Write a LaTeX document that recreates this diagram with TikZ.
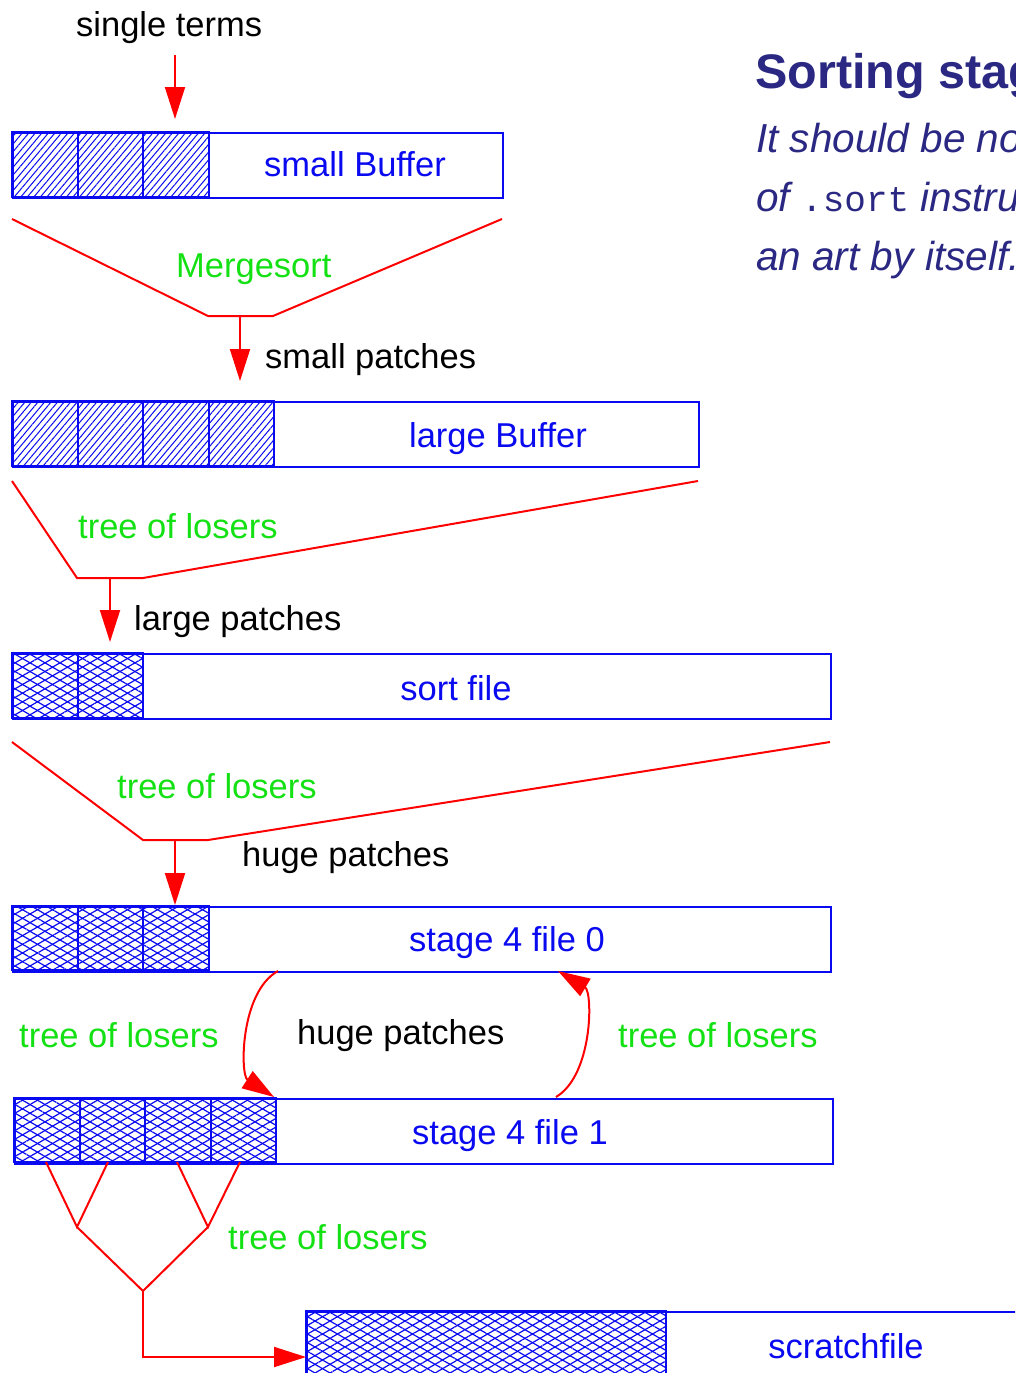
\documentclass[tikz,border=0pt]{standalone}
\usepackage{fontspec}
\setmainfont{Liberation Sans}
\setmonofont{Liberation Mono}
\usetikzlibrary{arrows.meta, positioning, patterns.meta, calc}
\definecolor{bufblue}{RGB}{10,10,240}
\definecolor{treegreen}{RGB}{20,225,20}
\definecolor{titlenavy}{RGB}{42,40,130}

\begin{document}
\begin{tikzpicture}[
  x=1pt, y=-1pt,
  font=\fontsize{34.5}{40}\selectfont,
  buffer/.style={draw=bufblue, line width=2.2pt, anchor=north west,
                 minimum height=65pt, inner sep=0pt},
  fine/.style={draw=bufblue, line width=2pt,
               pattern={Lines[angle=50,distance=5pt,line width=1pt]},
               pattern color=bufblue},
  coarse/.style={draw=bufblue, line width=2pt,
                 pattern={Lines[angle=30,distance=7.5pt,line width=1.2pt]},
                 pattern color=bufblue,
                 postaction={pattern={Lines[angle=-30,distance=7.5pt,line width=1.2pt]},
                             pattern color=bufblue}},
  bufname/.style={anchor=base, text=bufblue},
  label/.style={anchor=base west, inner sep=0pt},
  treename/.style={label, text=treegreen},
  patchname/.style={label, text=black},
  notetext/.style={label, text=titlenavy, font=\fontsize{40.5}{59}\selectfont\itshape},
  funnel/.style={red, line width=2pt},
  flow/.style={-{Triangle[length=32pt,width=20pt]}, red, line width=2pt}
]
  \useasboundingbox (0,0) rectangle (1015,1373);
  \clip (0,0) rectangle (1015,1373);

  % heading and note
  \node[label, text=titlenavy,
        font=\fontsize{48.5}{58}\selectfont\bfseries] (title) at (755,88) {Sorting stages};
  \node[notetext] (note1) at (756,152) {It should be noted that};
  \node[notetext] (note2) at (756,211)
    {of {\upshape\fontsize{36}{59}\selectfont\ttfamily .sort} instructions};
  \node[notetext] (note3) at (756,270) {an art by itself.};

  % buffers and files
  \node[buffer, minimum width=490pt] (smallbuf) at (12,132) {};
  \foreach \i in {0,1,2}
    \draw[fine] (12+65.5*\i,132) rectangle ++(65.5,65);
  \node[bufname] (smalltxt) at (355,176) {small Buffer};

  \node[buffer, minimum width=686pt] (largebuf) at (12,401) {};
  \foreach \i in {0,...,3}
    \draw[fine] (12+65.5*\i,401) rectangle ++(65.5,65);
  \node[bufname] (largetxt) at (498,447) {large Buffer};

  \node[buffer, minimum width=818pt] (sortfile) at (12,653) {};
  \foreach \i in {0,1}
    \draw[coarse] (12+65.5*\i,653) rectangle ++(65.5,65);
  \node[bufname] (sorttxt) at (456,700) {sort file};

  \node[buffer, minimum width=818pt] (stagezero) at (12,906) {};
  \foreach \i in {0,1,2}
    \draw[coarse] (12+65.5*\i,906) rectangle ++(65.5,64);
  \node[bufname] (zerotxt) at (507,951) {stage 4 file 0};

  \node[buffer, minimum width=818pt] (stageone) at (14,1098) {};
  \foreach \i in {0,...,3}
    \draw[coarse] (14+65.5*\i,1098) rectangle ++(65.5,64);
  \node[bufname] (onetxt) at (510,1144) {stage 4 file 1};

  \node[buffer, minimum width=760pt, minimum height=90pt] (scratch) at (306,1311) {};
  \draw[coarse] (306,1311) rectangle (666,1400);
  \node[bufname] (scratchtxt) at (846,1358) {scratchfile};

  % labels
  \node[patchname] (single) at (76,36) {single terms};
  \node[treename] (merge) at (176,277) {Mergesort};
  \node[patchname] (smallp) at (265,368) {small patches};
  \node[treename] (losersa) at (78,538) {tree of losers};
  \node[patchname] (largep) at (134,630) {large patches};
  \node[treename] (losersb) at (117,798) {tree of losers};
  \node[patchname] (hugep) at (242,866) {huge patches};
  \node[treename] (losersl) at (19,1047) {tree of losers};
  \node[patchname] (hugemid) at (297,1044) {huge patches};
  \node[treename] (losersr) at (618,1047) {tree of losers};
  \node[treename] (losersc) at (228,1249) {tree of losers};

  % funnels
  \coordinate (ms1) at (12,219);  \coordinate (ms2) at (208,316);
  \coordinate (ms3) at (273,316); \coordinate (ms4) at (502,219);
  \coordinate (msout) at (240,316);
  \coordinate (ta1) at (12,481);  \coordinate (ta2) at (77,578);
  \coordinate (ta3) at (143,578); \coordinate (ta4) at (698,481);
  \coordinate (taout) at (110,578);
  \coordinate (tb1) at (12,742);  \coordinate (tb2) at (143,840);
  \coordinate (tb3) at (208,840); \coordinate (tb4) at (830,742);
  \coordinate (tbout) at (175,840);
  \draw[funnel] (ms1) -- (ms2) -- (ms3) -- (ms4);
  \draw[funnel] (ta1) -- (ta2) -- (ta3) -- (ta4);
  \draw[funnel] (tb1) -- (tb2) -- (tb3) -- (tb4);

  \coordinate (singleout) at (175,55);
  \coordinate (smallin) at (175,119);
  \coordinate (largein) at (240,381);
  \coordinate (sortin) at (110,642);
  \coordinate (zeroin) at (175,905);
  \draw[flow] (singleout) -- (smallin);
  \draw[flow] (msout) -- (largein);
  \draw[flow] (taout) -- (sortin);
  \draw[flow] (tbout) -- (zeroin);

  % stage 4 ping-pong
  \coordinate (zeroleft) at (278,971);
  \coordinate (oneleft) at (274,1097);
  \coordinate (oneright) at (556,1097);
  \coordinate (zeroright) at (558,971);
  \draw[flow] (zeroleft) .. controls (240,992) and (240,1075) .. (oneleft);
  \draw[flow] (oneright) .. controls (593,1075) and (593,992) .. (zeroright);

  % final merge tree
  \coordinate (leafa) at (46,1162);  \coordinate (leafb) at (108,1162);
  \coordinate (leafc) at (177,1162); \coordinate (leafd) at (240,1162);
  \coordinate (knotl) at (77,1227);  \coordinate (knotr) at (208,1227);
  \coordinate (root) at (143,1291);  \coordinate (bend) at (143,1357);
  \coordinate (scratchin) at (306,1357);
  \draw[funnel] (leafa) -- (knotl) -- (leafb);
  \draw[funnel] (leafc) -- (knotr) -- (leafd);
  \draw[funnel] (knotl) -- (root) -- (knotr);
  \draw[flow] (root) -- (bend) -- (scratchin);
\end{tikzpicture}
\end{document}
